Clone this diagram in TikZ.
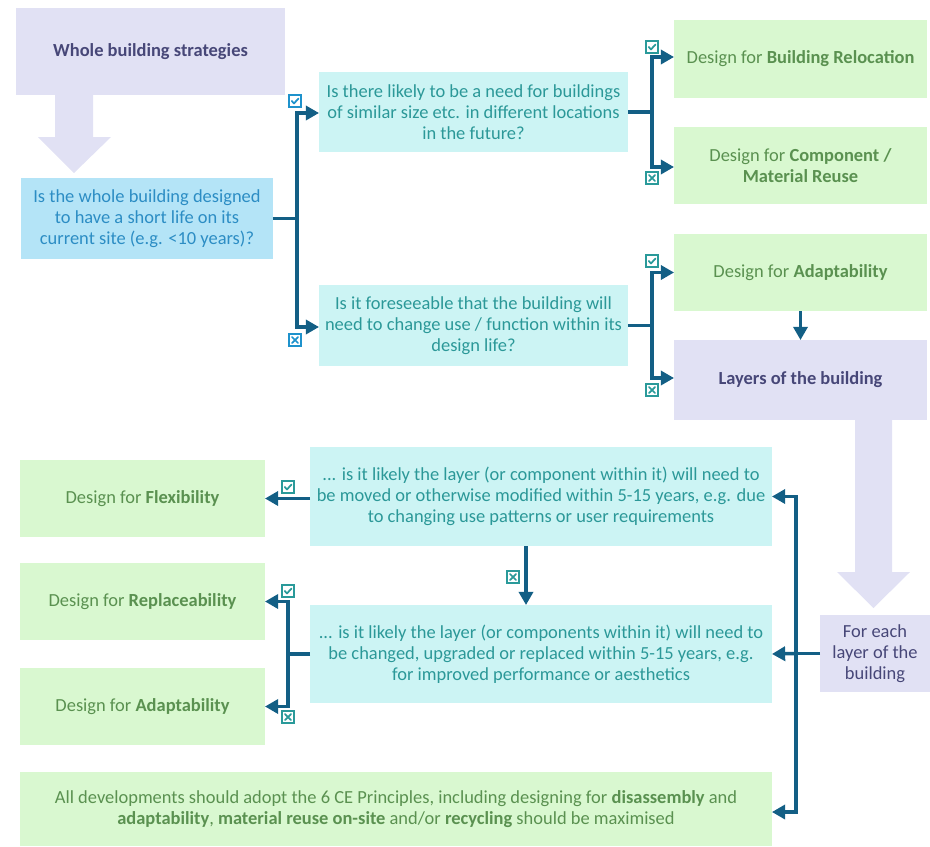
\documentclass[tikz,border=0pt]{standalone}
\usepackage{fontspec}
\setmainfont{Carlito}
\usetikzlibrary{arrows.meta}
\definecolor{lavfill}{HTML}{E1E1F4}
\definecolor{lavtext}{HTML}{474778}
\definecolor{bluefill}{HTML}{B4E4F7}
\definecolor{bluetext}{HTML}{2C8DC4}
\definecolor{cyanfill}{HTML}{CCF4F4}
\definecolor{cyantext}{HTML}{2B9898}
\definecolor{greenfill}{HTML}{D9F8D0}
\definecolor{greentext}{HTML}{5A9150}
\definecolor{flowcol}{HTML}{135F85}
\definecolor{iconblue}{HTML}{1E92CC}
\definecolor{iconteal}{HTML}{2A9A9A}
\begin{document}
\begin{tikzpicture}[x=0.02cm, y=-0.02cm, >={Triangle[length=7.5pt,width=8pt]},
    every node/.style={font=\fontsize{10.5}{12}\selectfont, inner sep=0pt, outer sep=0pt, align=center},
    lavbox/.style={fill=lavfill, text=lavtext},
    startq/.style={fill=bluefill, text=bluetext},
    question/.style={fill=cyanfill, text=cyantext},
    outcome/.style={fill=greenfill, text=greentext},
    flow/.style={draw=flowcol, line width=2pt},
    yesmark/.pic={
        \draw[#1, fill=white, line width=0.6pt] (-6,-6) rectangle (6,6);
        \draw[#1, line width=1pt, line cap=round, line join=round] (-3.2,0) -- (-1,2.4) -- (3.4,-2.4);
    },
    nomark/.pic={
        \draw[#1, fill=white, line width=0.6pt] (-6,-6) rectangle (6,6);
        \draw[#1, line width=1pt, line cap=round] (-3,-3) -- (3,3) (-3,3) -- (3,-3);
    }]
    \useasboundingbox (0,0) rectangle (930,846);
    % whole building part
    \node[lavbox, minimum width=5.38cm, minimum height=1.74cm] (whole) at (150.5,51.5) {\textbf{Whole building strategies}};
    \fill[lavfill] (55,95) -- (93,95) -- (93,137) -- (111,137) -- (74,173) -- (38,137) -- (55,137) -- cycle;
    \node[startq, minimum width=5.04cm, minimum height=1.62cm] (shortlife) at (147,218.5) {Is the whole building designed\\to have a short life on its\\current site (e.g. <10 years)?};
    \node[question, minimum width=6.18cm, minimum height=1.6cm] (relocq) at (473.5,112) {Is there likely to be a need for buildings\\of similar size etc. in different locations\\in the future?};
    \node[question, minimum width=6.18cm, minimum height=1.62cm] (useq) at (473.5,325.5) {Is it foreseeable that the building will\\need to change use / function within its\\design life?};
    \node[outcome, minimum width=5.06cm, minimum height=1.56cm] (reloc) at (800.5,59) {Design for \textbf{Building Relocation}};
    \node[outcome, minimum width=5.06cm, minimum height=1.54cm] (reuse) at (800.5,165.5) {Design for \textbf{Component /}\\\textbf{Material Reuse}};
    \node[outcome, minimum width=5.06cm, minimum height=1.54cm] (adapt) at (800.5,272.5) {Design for \textbf{Adaptability}};
    \node[lavbox, minimum width=5.06cm, minimum height=1.6cm] (layers) at (800.5,380) {\textbf{Layers of the building}};
    % layer part
    \fill[lavfill] (855,420) -- (892,420) -- (892,572) -- (910,572) -- (873.5,608) -- (837,572) -- (855,572) -- cycle;
    \node[lavbox, minimum width=2.2cm, minimum height=1.54cm] (eachlayer) at (875,653.5) {For each\\layer of the\\building};
    \node[question, minimum width=9.24cm, minimum height=1.98cm] (moveq) at (541,496.5) {... is it likely the layer (or component within it) will need to\\be moved or otherwise modified within 5-15 years, e.g. due\\to changing use patterns or user requirements};
    \node[question, minimum width=9.24cm, minimum height=1.96cm] (replq) at (541,654) {... is it likely the layer (or components within it) will need to\\be changed, upgraded or replaced within 5-15 years, e.g.\\for improved performance or aesthetics};
    \node[outcome, minimum width=4.9cm, minimum height=1.54cm] (flex) at (142.5,498.5) {Design for \textbf{Flexibility}};
    \node[outcome, minimum width=4.9cm, minimum height=1.54cm] (repl) at (142.5,601.5) {Design for \textbf{Replaceability}};
    \node[outcome, minimum width=4.9cm, minimum height=1.54cm] (adapt2) at (142.5,706.5) {Design for \textbf{Adaptability}};
    \node[outcome, minimum width=15.04cm, minimum height=1.48cm] (alldev) at (396,809) {All developments should adopt the 6 CE Principles, including designing for \textbf{disassembly} and\\\textbf{adaptability}, \textbf{material reuse on-site} and/or \textbf{recycling} should be maximised};
    % connectors
    \coordinate (j1) at (297,218.5);
    \draw[flow] (shortlife.east) -- (j1);
    \draw[flow, ->] (j1) |- ([yshift=-0.02cm]relocq.west);
    \draw[flow, ->] (j1) |- ([yshift=-0.03cm]useq.west);
    \coordinate (j2) at (652,112);
    \draw[flow] (relocq.east) -- (j2);
    \draw[flow, ->] (j2) |- ([yshift=0.04cm]reloc.west);
    \draw[flow, ->] (j2) |- ([yshift=-0.03cm]reuse.west);
    \coordinate (j3) at (652,325.5);
    \draw[flow] (useq.east) -- (j3);
    \draw[flow, ->] (j3) |- (adapt.west);
    \draw[flow, ->] (j3) |- ([yshift=0.04cm]layers.west);
    \draw[flow, ->] (adapt.south) -- (layers.north);
    \coordinate (j4) at (796,653.5);
    \draw[flow] (eachlayer.west) -- (j4);
    \draw[flow, ->] (j4) |- (moveq.east);
    \draw[flow, ->] (j4) -- (replq.east);
    \draw[flow, ->] (j4) |- ([yshift=-0.06cm]alldev.east);
    \draw[flow, ->] (flex.east -| moveq.west) -- (flex.east);
    \draw[flow, ->] ([xshift=-0.3cm]moveq.south) -- ([xshift=-0.3cm]replq.north);
    \coordinate (j5) at (288,654);
    \draw[flow] (replq.west) -- (j5);
    \draw[flow, ->] (j5) |- (repl.east);
    \draw[flow, ->] (j5) |- (adapt2.east);
    % yes / no marks
    \pic at (295,101) {yesmark=iconblue};
    \pic at (295,340) {nomark=iconblue};
    \pic at (652,47) {yesmark=iconteal};
    \pic at (652,178) {nomark=iconteal};
    \pic at (652,261) {yesmark=iconteal};
    \pic at (652,390) {nomark=iconteal};
    \pic at (288,487) {yesmark=iconteal};
    \pic at (513,577) {nomark=iconteal};
    \pic at (288,591) {yesmark=iconteal};
    \pic at (288,717) {nomark=iconteal};
\end{tikzpicture}
\end{document}
